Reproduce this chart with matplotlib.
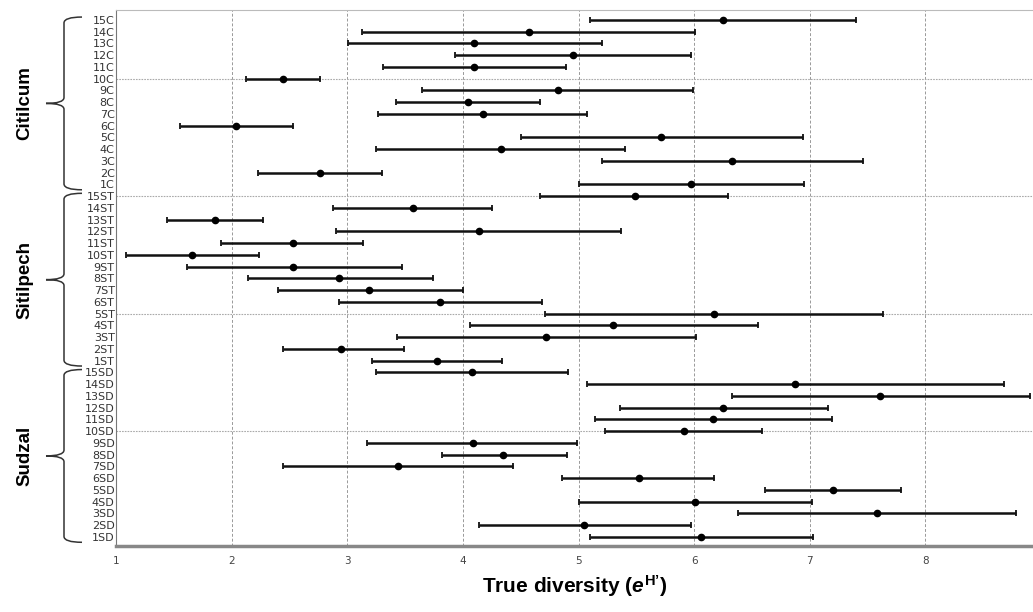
import numpy as np
import matplotlib.pyplot as plt
from matplotlib.path import Path
from matplotlib.patches import PathPatch

plt.rcParams['mathtext.fontset'] = 'custom'
plt.rcParams['mathtext.it'] = 'Liberation Sans:italic:bold'
plt.rcParams['mathtext.bf'] = 'Liberation Sans:bold'
plt.rcParams['mathtext.rm'] = 'Liberation Sans:bold'

# sites 1..15 for each locality
sites = list(range(1, 16))

# Citilcum (C)
c_mean = [5.97, 2.76, 6.33, 4.33, 5.71, 2.04, 4.17, 4.04, 4.82, 2.44, 4.10, 4.95, 4.10, 4.57, 6.25]
c_low = [5.00, 2.23, 5.20, 3.25, 4.50, 1.55, 3.27, 3.42, 3.65, 2.12, 3.31, 3.93, 3.01, 3.13, 5.10]
c_high = [6.95, 3.30, 7.46, 5.40, 6.94, 2.53, 5.07, 4.67, 5.99, 2.76, 4.89, 5.97, 5.20, 6.01, 7.40]

# Sitilpech (ST)
st_mean = [3.78, 2.95, 4.72, 5.30, 6.17, 3.80, 3.19, 2.93, 2.53, 1.66, 2.53, 4.14, 1.86, 3.57, 5.49]
st_low = [3.21, 2.44, 3.43, 4.06, 4.71, 2.93, 2.40, 2.14, 1.61, 1.09, 1.91, 2.90, 1.44, 2.88, 4.67]
st_high = [4.34, 3.49, 6.02, 6.55, 7.63, 4.68, 4.00, 3.74, 3.47, 2.24, 3.14, 5.37, 2.27, 4.25, 6.29]

# Sudzal (SD)
sd_mean = [6.06, 5.05, 7.58, 6.01, 7.20, 5.52, 3.44, 4.35, 4.09, 5.91, 6.16, 6.25, 7.61, 6.87, 4.08]
sd_low = [5.10, 4.14, 6.38, 5.00, 6.61, 4.86, 2.44, 3.82, 3.17, 5.23, 5.14, 5.36, 6.33, 5.07, 3.25]
sd_high = [7.03, 5.97, 8.78, 7.02, 7.79, 6.17, 4.43, 4.90, 4.99, 6.59, 7.19, 7.16, 8.90, 8.68, 4.91]

groups = ["Sudzal", "Sitilpech", "Citilcum"]
suffixes = ["SD", "ST", "C"]

means = np.array(sd_mean + st_mean + c_mean)
lows = np.array(sd_low + st_low + c_low)
highs = np.array(sd_high + st_high + c_high)
labels = [f"{s}{suf}" for suf in suffixes for s in sites]
ypos = np.arange(1, len(labels) + 1)

fig = plt.figure(figsize=(10.33, 6.12), dpi=100)
ax = fig.add_axes([116 / 1033, 1 - 546 / 612, 1 - 116 / 1033, (546 - 10) / 612])

ax.errorbar(means, ypos, xerr=[means - lows, highs - means], fmt='o', color='black',
            ecolor='#111111', elinewidth=1.8, capsize=2.5, capthick=1.3,
            markersize=4.5, zorder=3)

ax.set_xlim(1, 8.93)
ax.set_ylim(0.234, 45.85)
ax.set_xticks(range(1, 9))
ax.set_yticks(ypos)
ax.set_yticklabels(labels, family=['Liberation Sans Narrow', 'DejaVu Sans'],
                   fontsize=8, color='#333333')
ax.tick_params(axis='both', length=0)
ax.tick_params(axis='x', labelsize=7.5, labelcolor='#444444', pad=7)
ax.tick_params(axis='y', pad=1)

for xv in range(2, 9):
    ax.axvline(xv, color='#999999', linestyle=(0, (3, 2)), linewidth=0.7, zorder=0)
for yv in [10, 20, 30, 40]:
    ax.axhline(yv, color='#aaaaaa', linestyle=(0, (1.5, 1)), linewidth=0.8, zorder=0)

ax.spines['right'].set_visible(False)
ax.spines['top'].set_color('#bbbbbb')
ax.spines['top'].set_linewidth(0.8)
ax.spines['left'].set_color('#777777')
ax.spines['left'].set_linewidth(0.8)
ax.spines['bottom'].set_color('#888888')
ax.spines['bottom'].set_linewidth(2.5)

ax.set_xlabel("True diversity ($\\mathit{e}^{\\mathbf{H\u2019}}$)", fontsize=15,
              family='Liberation Sans', fontweight='bold', labelpad=5)


# curly braces on the left with locality names
def brace(top, bottom, x_spine, x_hook, x_tip, r=1.0):
    mid = (top + bottom) / 2
    verts = [(x_hook, top), (x_spine, top), (x_spine, top - r),
             (x_spine, mid + r), (x_spine, mid), (x_tip, mid),
             (x_spine, mid), (x_spine, mid - r),
             (x_spine, bottom + r), (x_spine, bottom), (x_hook, bottom)]
    codes = [Path.MOVETO, Path.CURVE3, Path.CURVE3,
             Path.LINETO, Path.CURVE3, Path.CURVE3,
             Path.CURVE3, Path.CURVE3,
             Path.LINETO, Path.CURVE3, Path.CURVE3]
    return Path(verts, codes)


ax_w = 1033 - 116
tr = ax.get_yaxis_transform()
x_spine = (64 - 116) / ax_w
x_hook = (82 - 116) / ax_w
x_tip = (46 - 116) / ax_w
x_text = (25 - 116) / ax_w

for gi, name in enumerate(groups):
    first = gi * 15 + 1
    last = gi * 15 + 15
    top = last + 0.25
    bottom = first - 0.45
    p = brace(top, bottom, x_spine, x_hook, x_tip, r=0.5)
    ax.add_patch(PathPatch(p, transform=tr, facecolor='none', edgecolor='#333333',
                           linewidth=1.1, clip_on=False))
    ax.text(x_text, (top + bottom) / 2, name, transform=tr, rotation=90,
            ha='center', va='center', fontsize=13.5, fontweight='bold',
            family='Liberation Sans', clip_on=False)

fig.savefig("out.png", dpi=100)
